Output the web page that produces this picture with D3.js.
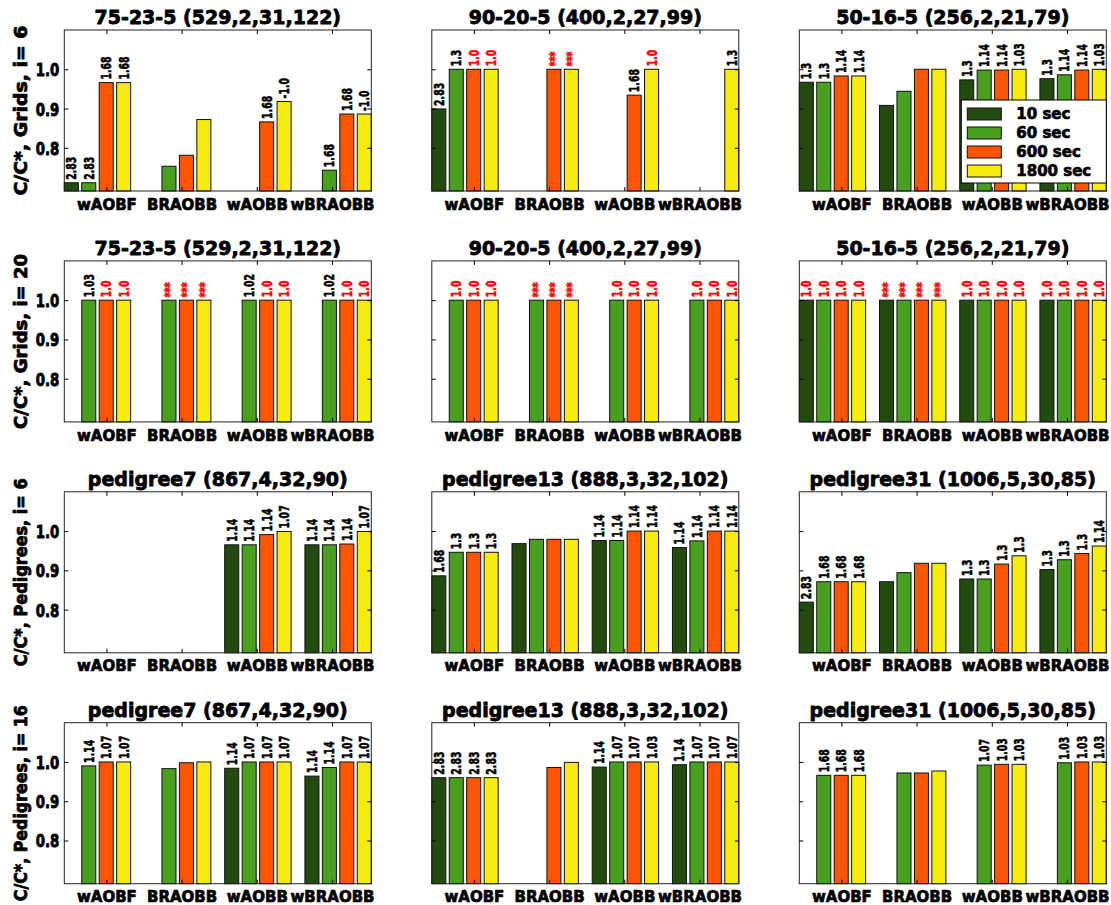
<!DOCTYPE html>
<html><head><meta charset="utf-8">
<script src="https://cdn.jsdelivr.net/npm/d3@7"></script>
<style>
body{margin:0;background:#fff}
svg{display:block}
text{font-family:"DejaVu Sans",sans-serif;font-weight:bold}
</style>
</head><body>
<svg id="c" width="1111" height="905"></svg>
<script>
// ---------- data ----------
const groups = ["wAOBF", "BRAOBB", "wAOBB", "wBRAOBB"];
const seriesNames = ["10 sec", "60 sec", "600 sec", "1800 sec"];
const rowLabels = ["C/C*, Grids, i= 6", "C/C*, Grids, i= 20", "C/C*, Pedigrees, i= 6", "C/C*, Pedigrees, i= 16"];
const panelTitles = [
  "75-23-5 (529,2,31,122)", "90-20-5 (400,2,27,99)", "50-16-5 (256,2,21,79)",
  "75-23-5 (529,2,31,122)", "90-20-5 (400,2,27,99)", "50-16-5 (256,2,21,79)",
  "pedigree7 (867,4,32,90)", "pedigree13 (888,3,32,102)", "pedigree31 (1006,5,30,85)",
  "pedigree7 (867,4,32,90)", "pedigree13 (888,3,32,102)", "pedigree31 (1006,5,30,85)"
];
const yTickValues = [0.8, 0.9, 1.0];
const yDomain = [0.69, 1.1];
const xTickPositions = [0.525, 1.4625, 2.4, 3.3375];

// values per panel: rows = groups, columns = 10/60/600/1800 sec (null = no bar)
const grid75_i6 = [[0.711, 0.711, 0.966, 0.966], [null, 0.753, 0.781, 0.872], [null, null, 0.866, 0.918], [null, 0.743, 0.886, 0.886]];
const grid75_i6_lab = [["2.83", "2.83", "1.68", "1.68"], ["", "", "", ""], ["", "", "1.68", "-1.0"], ["", "1.68", "1.68", "-1.0"]];
const grid90_i6 = [[0.899, 1.0, 1.0, 1.0], [null, null, 1.0, 1.0], [null, null, 0.934, 1.0], [null, null, null, 1.0]];
const grid90_i6_lab = [["2.83", "1.3", "1.0", "1.0"], ["", "", "***", "***"], ["", "", "1.68", "1.0"], ["", "", "", "1.3"]];
const grid50_i6 = [[0.967, 0.967, 0.983, 0.983], [0.908, 0.944, 1.0, 1.0], [0.973, 0.998, 0.998, 1.0], [0.976, 0.986, 0.998, 1.0]];
const grid50_i6_lab = [["1.3", "1.3", "1.14", "1.14"], ["", "", "", ""], ["1.3", "1.14", "1.14", "1.03"], ["1.3", "1.14", "1.14", "1.03"]];

const grid75_i20 = [[null, 1.0, 1.0, 1.0], [null, 1.0, 1.0, 1.0], [null, 1.0, 1.0, 1.0], [null, 1.0, 1.0, 1.0]];
const grid75_i20_lab = [["", "1.03", "1.0", "1.0"], ["", "***", "***", "***"], ["", "1.02", "1.0", "1.0"], ["", "1.02", "1.0", "1.0"]];
const grid90_i20 = [[null, 1.0, 1.0, 1.0], [null, 1.0, 1.0, 1.0], [null, 1.0, 1.0, 1.0], [null, 1.0, 1.0, 1.0]];
const grid90_i20_lab = [["", "1.0", "1.0", "1.0"], ["", "***", "***", "***"], ["", "1.0", "1.0", "1.0"], ["", "1.0", "1.0", "1.0"]];
const grid50_i20 = [[1.0, 1.0, 1.0, 1.0], [1.0, 1.0, 1.0, 1.0], [1.0, 1.0, 1.0, 1.0], [1.0, 1.0, 1.0, 1.0]];
const grid50_i20_lab = [["1.0", "1.0", "1.0", "1.0"], ["***", "***", "***", "***"], ["1.0", "1.0", "1.0", "1.0"], ["1.0", "1.0", "1.0", "1.0"]];

const ped7_i6 = [[null, null, null, null], [null, null, null, null], [0.965, 0.965, 0.991, 0.999], [0.965, 0.965, 0.967, 0.999]];
const ped7_i6_lab = [["", "", "", ""], ["", "", "", ""], ["1.14", "1.14", "1.14", "1.07"], ["1.14", "1.14", "1.14", "1.07"]];
const ped13_i6 = [[0.886, 0.946, 0.946, 0.946], [0.968, 0.979, 0.979, 0.979], [0.976, 0.976, 1.0, 1.0], [0.958, 0.975, 1.0, 1.0]];
const ped13_i6_lab = [["1.68", "1.3", "1.3", "1.3"], ["", "", "", ""], ["1.14", "1.14", "1.14", "1.14"], ["1.14", "1.14", "1.14", "1.14"]];
const ped31_i6 = [[0.819, 0.871, 0.871, 0.871], [0.871, 0.894, 0.918, 0.918], [0.878, 0.878, 0.916, 0.937], [0.902, 0.927, 0.943, 0.962]];
const ped31_i6_lab = [["2.83", "1.68", "1.68", "1.68"], ["", "", "", ""], ["1.3", "1.3", "1.3", "1.3"], ["1.3", "1.3", "1.3", "1.14"]];

const ped7_i16 = [[null, 0.990, 1.0, 1.0], [null, 0.983, 0.998, 1.0], [0.984, 1.0, 1.0, 1.0], [0.964, 0.986, 1.0, 1.0]];
const ped7_i16_lab = [["", "1.14", "1.07", "1.07"], ["", "", "", ""], ["1.14", "1.07", "1.07", "1.07"], ["1.14", "1.14", "1.07", "1.07"]];
const ped13_i16 = [[0.960, 0.960, 0.960, 0.960], [null, null, 0.986, 0.999], [0.987, 1.0, 1.0, 1.0], [0.993, 1.0, 1.0, 1.0]];
const ped13_i16_lab = [["2.83", "2.83", "2.83", "2.83"], ["", "", "", ""], ["1.14", "1.07", "1.07", "1.03"], ["1.14", "1.07", "1.07", "1.07"]];
const ped31_i16 = [[null, 0.966, 0.966, 0.966], [null, 0.972, 0.972, 0.977], [null, 0.992, 0.994, 0.994], [null, 0.998, 1.0, 1.0]];
const ped31_i16_lab = [["", "1.68", "1.68", "1.68"], ["", "", "", ""], ["", "1.07", "1.03", "1.03"], ["", "1.03", "1.03", "1.03"]];

const panelValues = [grid75_i6, grid90_i6, grid50_i6, grid75_i20, grid90_i20, grid50_i20, ped7_i6, ped13_i6, ped31_i6, ped7_i16, ped13_i16, ped31_i16];
const panelLabels = [grid75_i6_lab, grid90_i6_lab, grid50_i6_lab, grid75_i20_lab, grid90_i20_lab, grid50_i20_lab, ped7_i6_lab, ped13_i6_lab, ped31_i6_lab, ped7_i16_lab, ped13_i16_lab, ped31_i16_lab];

// ---------- style ----------
const seriesColors = ["#234b0f", "#48a01e", "#ff5500", "#f7ea0e"];
const rowLabelLengths = [170, 175, 188, 196];
const W = 307, H = 161;
const colLeft = c => 64.3 + c * 367.5;
const rowTop = r => 30 + r * 230.9;
const barPitch = 0.2175, barWidth = 0.175;

const svg = d3.select("#c");
const x = d3.scaleLinear().domain([0, 3 + 3 * barPitch + barWidth]).range([0, W]);
const y = d3.scaleLinear().domain(yDomain).range([H, 0]);

function heavy(sel, w, col) {
  sel.attr("stroke", col || "#000").attr("stroke-width", w).attr("stroke-linejoin", "round");
}
function styleAxis(sel, size) {
  sel.select(".domain").remove();
  sel.selectAll(".tick line").attr("stroke", "#000").attr("stroke-width", 1);
  sel.selectAll("text").style("font-family", '"DejaVu Sans", sans-serif')
    .style("font-weight", "bold").style("font-size", size + "px").attr("fill", "#000");
}

for (let r = 0; r < 4; r++) {
  for (let c = 0; c < 3; c++) {
    const idx = r * 3 + c;
    const vals = panelValues[idx], labs = panelLabels[idx];
    const g = svg.append("g").attr("transform", `translate(${colLeft(c)},${rowTop(r)})`);

    // bars
    const bars = [];
    vals.forEach((row, gi) => row.forEach((v, si) => {
      bars.push({gi, si, v, lab: labs[gi][si]});
    }));
    const drawn = bars.filter(d => d.v !== null);
    g.selectAll("rect.bar").data(drawn).join("rect")
      .attr("class", "bar")
      .attr("x", d => x(d.gi + d.si * barPitch))
      .attr("width", x(barWidth) - x(0))
      .attr("y", d => y(d.v))
      .attr("height", d => H - y(d.v))
      .attr("fill", d => seriesColors[d.si])
      .attr("stroke", "#111").attr("stroke-width", 1);

    // frame
    g.append("rect").attr("x", 0).attr("y", 0).attr("width", W).attr("height", H)
      .attr("fill", "none").attr("stroke", "#222").attr("stroke-width", 1);

    // axes
    const ax = g.append("g").call(d3.axisLeft(y).tickValues(yTickValues).tickSize(-4).tickPadding(5)
      .tickFormat(c === 0 ? d3.format(".1f") : () => ""));
    styleAxis(ax, 18);
    ax.selectAll("text").attr("x", 0).attr("dy", "0.36em").attr("transform", "translate(-5,0) scale(0.74,1)")
      .call(heavy, 0.9);
    const axR = g.append("g").attr("transform", `translate(${W},0)`)
      .call(d3.axisRight(y).tickValues(yTickValues).tickSize(-4).tickFormat(() => ""));
    styleAxis(axR, 10);
    const axT = g.append("g").call(d3.axisTop(x).tickValues(xTickPositions).tickSize(-4).tickFormat(() => ""));
    styleAxis(axT, 10);
    const axB = g.append("g").attr("transform", `translate(0,${H})`)
      .call(d3.axisBottom(x).tickValues(xTickPositions).tickSize(-4).tickPadding(8)
        .tickFormat((d, i) => groups[i]));
    styleAxis(axB, 15);
    axB.selectAll("text").call(heavy, 0.7);

    // value labels
    g.selectAll("text.val").data(drawn.filter(d => d.lab !== "")).join("text")
      .attr("class", "val")
      .attr("transform", d => `translate(${x(d.gi + d.si * barPitch + barWidth / 2)},${y(d.v) - 3}) rotate(-90) scale(0.67,1)`)
      .attr("dy", "0.36em")
      .attr("text-anchor", "start")
      .style("font-size", "14px")
      .attr("fill", d => (d.lab === "1.0" || d.lab === "***") ? "#ff0000" : "#000")
      .each(function(d) {
        const col = (d.lab === "1.0" || d.lab === "***") ? "#ff0000" : "#000";
        d3.select(this).call(heavy, 0.6, col);
      })
      .text(d => d.lab);

    // title
    g.append("text").attr("x", W / 2).attr("y", -6).attr("text-anchor", "middle")
      .style("font-size", "19px").call(heavy, 0.8).text(panelTitles[idx]);

    // row label
    if (c === 0) {
      g.append("text").attr("transform", `translate(-37,${H / 2}) rotate(-90)`)
        .attr("text-anchor", "middle").style("font-size", "18px")
        .attr("textLength", rowLabelLengths[r]).attr("lengthAdjust", "spacingAndGlyphs")
        .call(heavy, 0.8)
        .text(rowLabels[r]);
    }

    // legend
    if (idx === 2) {
      const lg = g.append("g").attr("transform", `translate(${W - 145},70)`);
      lg.append("rect").attr("width", 145).attr("height", 83)
        .attr("fill", "#fff").attr("stroke", "#000").attr("stroke-width", 1);
      seriesNames.forEach((name, i) => {
        const cy = 14 + i * 19;
        lg.append("rect").attr("x", 6).attr("y", cy - 6).attr("width", 34).attr("height", 12)
          .attr("fill", seriesColors[i]).attr("stroke", "#111").attr("stroke-width", 1);
        lg.append("text").attr("x", 55).attr("y", cy).attr("dy", "0.36em")
          .style("font-size", "15px").call(heavy, 0.7).text(name);
      });
    }
  }
}
</script>
</body></html>
